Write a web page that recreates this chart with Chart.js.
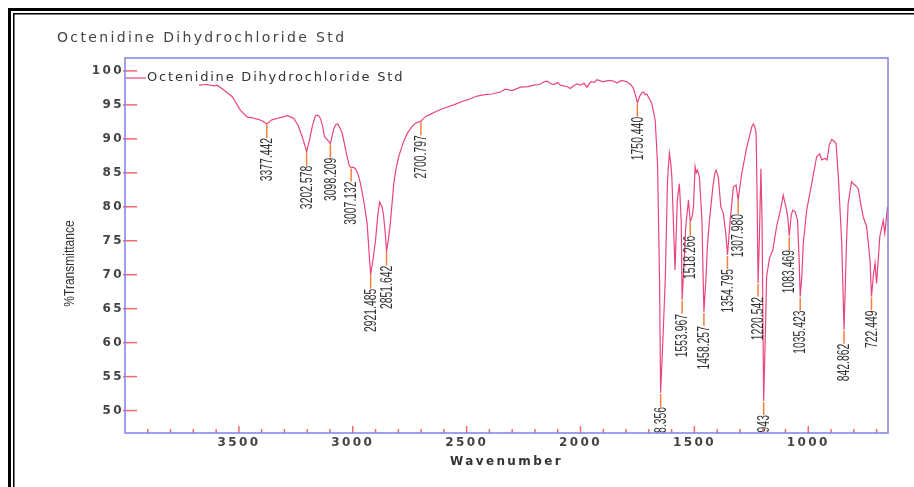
<!DOCTYPE html>
<html>
<head>
<meta charset="utf-8">
<title>Octenidine Dihydrochloride Std</title>
<script src="https://cdn.jsdelivr.net/npm/chart.js@4.4.1/dist/chart.umd.min.js"></script>
<style>
  html, body { margin: 0; padding: 0; background: #fff; }
</style>
</head>
<body>
<canvas id="irChart" width="914" height="487"></canvas>
<script>
// spectrum (wavenumber in cm-1, %T)
var chartTitle = 'Octenidine Dihydrochloride Std';

var wavenumber = [
  3675, 3640, 3610, 3595, 3566, 3529, 3493, 3463, 3440, 3419, 3400, 3377.442,
  3355, 3332, 3310, 3288, 3270, 3259, 3240, 3222, 3210, 3202.578, 3190, 3178,
  3165, 3159, 3150, 3142, 3132, 3124, 3110, 3098.209, 3090, 3083, 3074, 3066,
  3056, 3046, 3035, 3025, 3015, 3007.132, 2997, 2988, 2976, 2966, 2950, 2937,
  2928, 2921.485, 2910, 2900, 2890, 2882, 2872, 2865, 2857, 2851.642, 2843, 2835,
  2820, 2810, 2798, 2780, 2761, 2740, 2725, 2700.797, 2680, 2660, 2630, 2600,
  2557, 2520, 2491, 2454, 2420, 2390, 2352, 2330, 2300, 2264, 2230, 2206,
  2180, 2160, 2147, 2130, 2118, 2100, 2089, 2060, 2045, 2030, 2016, 2000,
  1985, 1972, 1955, 1940, 1928, 1900, 1880, 1855, 1840, 1820, 1797, 1780,
  1769, 1760, 1750.440, 1740, 1730, 1724, 1716, 1709, 1700, 1687, 1672, 1662,
  1653, 1648.356, 1640, 1628, 1618, 1610, 1604, 1599, 1585, 1575, 1566, 1558,
  1553.967, 1545, 1538, 1526, 1518.266, 1510, 1504, 1497, 1492, 1487, 1478, 1467,
  1458.257, 1450, 1443, 1434, 1419, 1410, 1405, 1395, 1384, 1373, 1362, 1354.795,
  1343, 1329, 1317, 1307.980, 1300, 1292, 1270, 1255, 1248, 1241, 1235, 1229,
  1225, 1220.542, 1215, 1208, 1203, 1195.943, 1188, 1183, 1170, 1156, 1139, 1124,
  1115, 1110, 1102, 1095, 1090, 1083.469, 1075, 1068, 1058, 1047, 1040, 1035.423,
  1028, 1022, 1007, 985, 963, 950, 941, 927, 917, 908, 897, 886,
  878, 868, 853, 842.862, 832, 825, 810, 800, 795, 781, 770, 759,
  744, 729, 722.449, 714, 707, 700, 686, 671, 664, 652
];

var transmittance = [
  97.9, 98.0, 97.8, 97.9, 97.2, 96.2, 94.2, 93.2, 93.1, 92.9, 92.7, 92.2,
  92.8, 93.0, 93.2, 93.4, 93.2, 93.0, 92.0, 90.3, 89.0, 88.1, 89.8, 91.8,
  93.3, 93.5, 93.4, 93.0, 91.8, 90.3, 89.8, 89.3, 90.5, 91.5, 92.1, 92.2,
  91.6, 90.8, 89.0, 87.4, 86.0, 85.8, 85.8, 85.6, 84.7, 83.4, 80.5, 77.6,
  73.0, 70.0, 72.5, 75.1, 78.8, 80.7, 80.0, 78.8, 76.0, 73.4, 75.3, 77.6,
  83.4, 85.6, 87.4, 89.3, 90.8, 91.8, 92.3, 92.6, 93.3, 93.6, 94.1, 94.5,
  95.0, 95.5, 95.8, 96.3, 96.5, 96.6, 96.9, 97.3, 97.1, 97.6, 97.7, 97.9,
  98.0, 98.4, 98.5, 98.1, 98.0, 98.3, 97.9, 97.7, 97.4, 97.8, 98.1, 97.9,
  98.2, 97.6, 98.4, 98.3, 98.7, 98.4, 98.6, 98.5, 98.2, 98.6, 98.4, 98.0,
  97.5, 96.6, 95.3, 96.3, 96.8, 96.9, 96.5, 96.6, 96.0, 95.2, 92.7, 86.4,
  69.2, 52.6, 59.0, 69.2, 83.9, 87.9, 86.5, 84.4, 70.7, 81.0, 83.4, 78.0,
  66.3, 72.0, 77.1, 81.0, 77.8, 78.5, 80.0, 85.9, 85.0, 85.4, 84.4, 78.0,
  64.5, 69.0, 74.1, 78.0, 82.9, 85.0, 85.4, 84.4, 80.0, 79.0, 76.0, 72.9,
  78.0, 82.9, 83.2, 81.0, 83.0, 84.9, 88.8, 90.8, 91.8, 92.2, 91.8, 90.8,
  82.0, 68.8, 75.0, 85.6, 78.0, 51.4, 62.0, 69.7, 72.5, 73.6, 77.1, 79.3,
  80.8, 81.7, 80.5, 79.5, 78.4, 75.7, 78.8, 79.5, 79.3, 78.0, 72.0, 66.8,
  70.0, 74.6, 79.5, 83.4, 87.4, 87.8, 86.9, 87.1, 86.9, 89.1, 89.9, 89.6,
  89.3, 84.4, 74.6, 61.9, 75.0, 80.5, 83.7, 83.3, 83.2, 82.7, 80.5, 78.5,
  77.1, 72.2, 66.8, 70.0, 71.7, 68.7, 75.6, 78.0, 76.1, 80.0
];

// labelled peaks
var peakWavenumber = [
  3377.442, 3202.578, 3098.209, 3007.132, 2921.485, 2851.642, 2700.797,
  1750.440, 1648.356, 1553.967, 1518.266, 1458.257, 1354.795, 1307.980,
  1220.542, 1195.943, 1083.469, 1035.423, 842.862, 722.449
];
var peakLabels = peakWavenumber.map(function (v) { return v.toFixed(3); });

var xTicks = [3500, 3000, 2500, 2000, 1500, 1000];
var yTicks = [50, 55, 60, 65, 70, 75, 80, 85, 90, 95, 100];

var points = wavenumber.map(function (w, i) { return { x: w, y: transmittance[i] }; });

var lineColor = '#e8457f';
var tickFont = { family: 'DejaVu Sans', size: 12, weight: 'bold' };

function strokeLine(ctx, x1, y1, x2, y2) {
  ctx.beginPath();
  ctx.moveTo(x1, y1);
  ctx.lineTo(x2, y2);
  ctx.stroke();
}

var spectrumDecor = {
  id: 'spectrumDecor',
  beforeDraw: function (chart) {
    // wide tracking used by the original axis text
    chart.ctx.letterSpacing = '2.4px';
  },
  afterDatasetsDraw: function (chart) {
    var ctx = chart.ctx, area = chart.chartArea;
    var xs = chart.scales.x, ys = chart.scales.y;
    ctx.save();
    ctx.beginPath();
    ctx.rect(area.left, area.top, area.right - area.left, area.bottom - area.top);
    ctx.clip();
    ctx.letterSpacing = '0px';
    peakWavenumber.forEach(function (w, i) {
      var idx = wavenumber.indexOf(w);
      var px = xs.getPixelForValue(w);
      var py = ys.getPixelForValue(transmittance[idx]);
      ctx.strokeStyle = '#f0803c';
      ctx.lineWidth = 1.5;
      strokeLine(ctx, px, py + 1, px, py + 14);
      ctx.save();
      ctx.translate(px + 0.5, py + 14);
      ctx.rotate(-Math.PI / 2);
      ctx.scale(0.8, 1.3);
      ctx.font = '13px "Liberation Sans", Arial, sans-serif';
      ctx.fillStyle = '#333';
      ctx.textAlign = 'right';
      ctx.textBaseline = 'middle';
      ctx.fillText(peakLabels[i], 0, 0);
      ctx.restore();
    });
    ctx.restore();
  },
  afterDraw: function (chart) {
    var ctx = chart.ctx, area = chart.chartArea;
    var xs = chart.scales.x, ys = chart.scales.y;
    ctx.save();

    // axis tick marks, pointing into the plot
    ctx.strokeStyle = '#f06a6a';
    ctx.lineWidth = 1.5;
    yTicks.forEach(function (v) {
      var py = ys.getPixelForValue(v);
      strokeLine(ctx, area.left - 2, py, area.left + 12, py);
    });
    for (var w = 700; w <= 3900; w += 100) {
      var px = xs.getPixelForValue(w);
      strokeLine(ctx, px, area.bottom, px, area.bottom - (w % 500 === 0 ? 7 : 4));
    }

    // plot frame
    ctx.strokeStyle = '#7f7fe4';
    ctx.lineWidth = 1.5;
    ctx.strokeRect(area.left, area.top, area.right - area.left, area.bottom - area.top);

    // legend entry
    ctx.strokeStyle = lineColor;
    ctx.lineWidth = 1.2;
    strokeLine(ctx, area.left + 1, 78, area.left + 21, 78);
    ctx.fillStyle = '#333';
    ctx.font = '13px "DejaVu Sans", sans-serif';
    ctx.letterSpacing = '1.8px';
    ctx.textAlign = 'left';
    ctx.textBaseline = 'middle';
    ctx.fillText(chartTitle, area.left + 22, 78);

    // title
    ctx.font = '14px "DejaVu Sans", sans-serif';
    ctx.letterSpacing = '2.35px';
    ctx.fillStyle = '#444';
    ctx.fillText(chartTitle, 57, 38);

    // y axis title
    ctx.save();
    ctx.letterSpacing = '0px';
    ctx.translate(70, (area.top + area.bottom) / 2 + 18);
    ctx.rotate(-Math.PI / 2);
    ctx.scale(1, 1.2);
    ctx.font = '12px "Liberation Sans", Arial, sans-serif';
    ctx.fillStyle = '#333';
    ctx.textAlign = 'center';
    ctx.fillText('%Transmittance', 0, 0);
    ctx.restore();

    // page border (double black rule)
    ctx.fillStyle = '#000';
    ctx.fillRect(8, 8, chart.width - 8, 3);
    ctx.fillRect(8, 8, 3, chart.height - 8);
    ctx.fillRect(13, 13, chart.width - 13, 1.5);
    ctx.fillRect(13, 13, 1.5, chart.height - 13);
    ctx.restore();
  }
};

var ctx = document.getElementById('irChart').getContext('2d');

var irChart = new Chart(ctx, {
  type: 'line',
  data: {
    datasets: [{
      label: chartTitle,
      data: points,
      borderColor: lineColor,
      borderWidth: 1.2,
      pointRadius: 0,
      tension: 0,
      fill: false
    }]
  },
  options: {
    responsive: false,
    animation: false,
    devicePixelRatio: 1,
    layout: { padding: { left: 0, top: 58, right: 26, bottom: 0 } },
    plugins: {
      legend: { display: false },
      title: { display: false },
      tooltip: { enabled: false }
    },
    scales: {
      x: {
        type: 'linear',
        reverse: true,
        min: 650,
        max: 4000,
        afterBuildTicks: function (scale) {
          scale.ticks = xTicks.map(function (v) { return { value: v }; });
        },
        afterFit: function (scale) { scale.height = 54; },
        grid: { display: false, drawTicks: false },
        border: { display: false },
        ticks: {
          padding: 3,
          color: '#444',
          font: tickFont,
          autoSkip: false,
          maxRotation: 0,
          callback: function (value) { return String(value); }
        },
        title: {
          display: true,
          text: 'Wavenumber',
          color: '#333',
          font: tickFont,
          padding: { top: 0, bottom: 18 }
        }
      },
      y: {
        min: 46.7,
        max: 101.9,
        afterBuildTicks: function (scale) {
          scale.ticks = yTicks.map(function (v) { return { value: v }; });
        },
        afterFit: function (scale) { scale.width = 125; },
        grid: { display: false, drawTicks: false },
        border: { display: false },
        ticks: {
          padding: 1,
          color: '#444',
          font: tickFont,
          callback: function (value) { return String(value); }
        }
      }
    }
  },
  plugins: [spectrumDecor]
});
</script>
</body>
</html>
